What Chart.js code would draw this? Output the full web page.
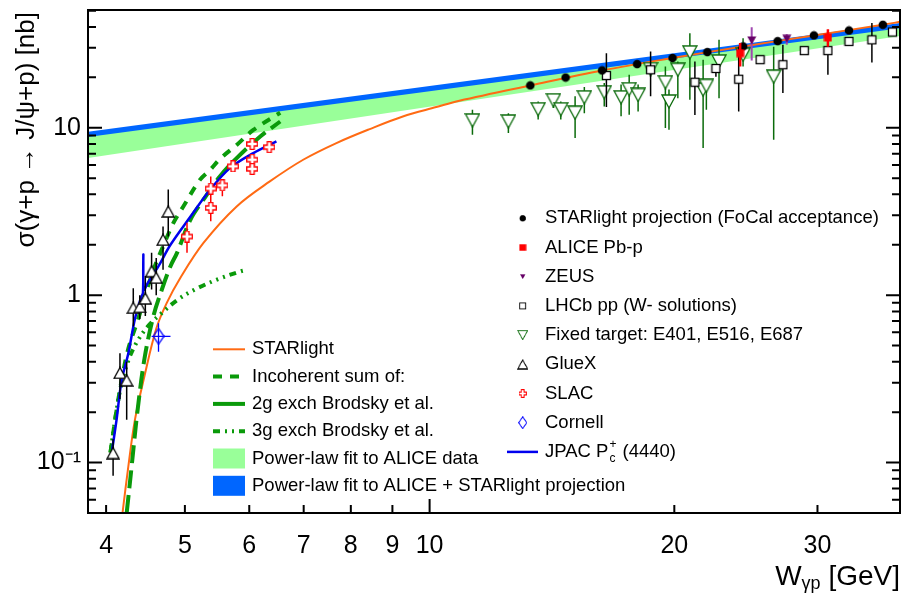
<!DOCTYPE html>
<html>
<head>
<meta charset="utf-8">
<script src="https://cdn.jsdelivr.net/npm/chart.js@4.4.1/dist/chart.umd.min.js"></script>
<style>html,body{margin:0;padding:0;background:#fff}canvas{display:block}</style>
</head>
<body>
<canvas id="chart" width="906" height="594"></canvas>
<script>
// ---- values (W in GeV, sigma in nb) ----
const xTickVals = [4, 5, 6, 7, 8, 9, 10, 20, 30];
const xTickLabels = ['4', '5', '6', '7', '8', '9', '10', '20', '30'];
const yTickVals = [0.1, 1, 10];
const yTickLabels = ['10\u207B\u00B9', '1', '10'];

// power-law fit bands (straight on log-log)
const bandW = [3.8, 37.9];
const aliceFitLow = [6.6, 35.3];
const aliceFitHigh = [9.0, 40.4];
const comboFitLow = [8.8, 39.3];
const comboFitHigh = [9.45, 42.3];

// STARlight curve
const starlightW = [4.19, 4.26, 4.34, 4.46, 4.61, 4.75, 4.935, 5.27, 5.79, 6.36, 6.99, 7.68, 8.44, 9.27, 10.19, 10.88, 13.3, 16.3, 19.9, 24.3, 29.7, 36.1, 37.9];
const starlightXS = [0.05, 0.095, 0.18, 0.33, 0.63, 0.9, 1.267, 2.05, 3.39, 4.78, 6.44, 8.10, 9.82, 11.68, 13.29, 14.5, 17.9, 22.0, 26.1, 30.6, 35.6, 41.2, 42.9];

// Brodsky et al.
const incohW = [4.05, 4.11, 4.18, 4.26, 4.38, 4.46, 4.57, 4.71, 4.84, 4.98, 5.22, 5.37, 5.52, 5.79, 6.07, 6.55];
const incohXS = [0.115, 0.19, 0.31, 0.48, 0.72, 0.97, 1.4, 2.0, 2.7, 3.4, 4.9, 5.6, 6.5, 7.9, 9.7, 12.3];
const twoGW = [4.24, 4.30, 4.37, 4.46, 4.57, 4.69, 4.80, 4.89, 5.08, 5.27, 5.52, 5.79, 6.19, 6.55];
const twoGXS = [0.05, 0.095, 0.2, 0.42, 0.74, 1.1, 1.49, 1.79, 2.83, 3.72, 5.12, 6.59, 8.87, 10.9];
const threeGW = [4.05, 4.11, 4.18, 4.27, 4.36, 4.50, 4.68, 4.90, 5.14, 5.50, 5.86, 5.93];
const threeGXS = [0.115, 0.19, 0.3, 0.42, 0.52, 0.65, 0.78, 0.94, 1.08, 1.25, 1.39, 1.41];

// JPAC Pc+(4440)
const jpacW = [4.07, 4.12, 4.18, 4.26, 4.34, 4.42, 4.44, 4.445, 4.452, 4.50, 4.64, 4.80, 5.08, 5.37, 5.68, 6.07, 6.48];
const jpacXS = [0.12, 0.18, 0.31, 0.45, 0.72, 0.98, 1.03, 1.75, 1.08, 1.18, 1.49, 2.0, 2.95, 4.26, 5.74, 7.06, 8.28];

// STARlight projection (FoCal acceptance)
const projW = [13.3, 14.7, 16.3, 18.0, 19.9, 21.96, 24.3, 26.8, 29.7, 32.8, 36.1];
const projXS = [17.9, 19.95, 22.0, 24.0, 26.1, 28.3, 30.6, 32.9, 35.6, 38.1, 41.2];
const projLo = [17.3, 19.3, 21.3, 23.2, 25.3, 27.4, 29.6, 31.9, 34.5, 36.9, 39.9];
const projHi = [18.5, 20.6, 22.7, 24.8, 26.9, 29.2, 31.6, 33.9, 36.7, 39.3, 42.5];

// ALICE Pb-p
const aliceW = [24.1, 30.9];
const aliceXS = [27.9, 34.6];
const aliceLo = [23.2, 30.5];
const aliceHi = [32.1, 38.8];

// ZEUS
const zeusW = [24.9, 27.5];
const zeusXS = [33.2, 34.0];
const zeusLo = [25.2, 31.3];
const zeusHi = [39.9, 36.2];

// LHCb pp (W- solutions)
const lhcbW = [16.5, 18.7, 21.2, 22.5, 24.0, 25.5, 27.2, 28.9, 30.9, 32.8, 35.0, 37.1];
const lhcbXS = [20.5, 22.2, 18.7, 22.6, 19.5, 25.5, 23.8, 28.9, 28.9, 32.8, 33.5, 37.3];
const lhcbLo = [13.3, 15.4, 11.9, 20.2, 12.5, 24.3, 16.1, 27.8, 20.7, 31.5, 24.5, 36.0];
const lhcbHi = [27.9, 28.5, 24.9, 23.8, 30.5, 26.8, 31.3, 30.0, 34.3, 34.1, 42.2, 38.6];

// Fixed target: E401, E516, E687
const fixedW = [11.29, 12.5, 13.6, 14.2, 14.5, 15.1, 15.5, 16.4, 17.2, 17.6, 18.05, 18.7, 19.5, 19.7, 20.2, 20.9, 21.7, 21.9, 22.7, 24.3, 26.5];
const fixedXS = [11.06, 10.9, 12.9, 14.6, 12.9, 12.3, 15.2, 16.3, 15.2, 17.0, 15.7, 22.4, 18.7, 14.35, 22.2, 28.2, 16.9, 17.8, 24.9, 27.3, 20.2];
const fixedLo = [9.08, 9.29, 11.2, 13.1, 11.2, 8.68, 12.2, 13.4, 11.7, 11.96, 12.5, 20.5, 9.96, 9.73, 15.0, 14.7, 7.56, 12.8, 15.0, 23.2, 8.48];
const fixedHi = [12.8, 12.2, 14.35, 15.7, 14.35, 15.4, 17.5, 18.5, 18.1, 20.7, 18.1, 24.0, 23.2, 16.9, 24.9, 36.7, 25.5, 19.3, 33.6, 34.3, 30.5];

// GlueX
const gluexW = [4.08, 4.16, 4.24, 4.32, 4.40, 4.47, 4.55, 4.61, 4.70, 4.77];
const gluexXS = [0.114, 0.343, 0.31, 0.84, 0.85, 0.955, 1.39, 1.27, 2.14, 3.16];
const gluexLo = [0.0835, 0.24, 0.18, 0.65, 0.72, 0.75, 1.08, 1.0, 1.42, 2.24];
const gluexHi = [0.138, 0.45, 0.40, 1.10, 1.0, 1.30, 1.79, 1.67, 2.57, 4.27];

// SLAC
const slacW = [5.03, 5.38, 5.38, 5.56, 5.73, 6.05, 6.05, 6.05, 6.35];
const slacXS = [2.24, 4.33, 3.32, 4.53, 5.88, 8.0, 6.44, 5.68, 7.66];
const slacLo = [1.79, 3.71, 2.76, 3.9, 5.6, 7.7, 6.1, 5.24, 7.3];
const slacHi = [2.71, 5.12, 3.71, 4.9, 6.2, 8.3, 6.8, 6.0, 8.0];

// Cornell
const cornellW = [4.64];
const cornellXS = [0.568];
const cornellLo = [0.46];
const cornellHi = [0.68];
const cornellWLo = [4.55];
const cornellWHi = [4.80];

const pts = (xs, ys) => xs.map((x, i) => ({x: x, y: ys[i]}));

// ---- marker glyphs (ROOT-like) ----
function makeMarker(w, h, fn) {
  const c = document.createElement('canvas');
  c.width = w; c.height = h;
  fn(c.getContext('2d'));
  return c;
}
function poly(g, p) {
  g.beginPath();
  g.moveTo(p[0][0], p[0][1]);
  for (let i = 1; i < p.length; i++) g.lineTo(p[i][0], p[i][1]);
  g.closePath();
}
const markers = {
  dot: makeMarker(10, 10, g => { g.fillStyle = '#000'; g.beginPath(); g.arc(5, 5, 4.3, 0, 2 * Math.PI); g.fill(); }),
  alice: makeMarker(9, 9, g => { g.fillStyle = '#ff0000'; g.fillRect(0.5, 0.5, 8, 8); }),
  zeus: makeMarker(10, 9, g => { g.fillStyle = '#660066'; poly(g, [[0.5, 0.5], [9.5, 0.5], [5, 8.5]]); g.fill(); }),
  lhcb: makeMarker(11, 11, g => { g.fillStyle = '#fff'; g.fillRect(1, 1, 9, 9); g.strokeStyle = '#000'; g.lineWidth = 1.3; g.strokeRect(1.5, 1.5, 8, 8); }),
  fixed: makeMarker(16, 15, g => { poly(g, [[1, 1], [15, 1], [8, 14]]); g.fillStyle = '#fff'; g.fill(); g.strokeStyle = '#0b6b0b'; g.lineWidth = 1.3; g.stroke(); }),
  gluex: makeMarker(14, 13, g => { poly(g, [[7, 1], [13, 12], [1, 12]]); g.fillStyle = '#fff'; g.fill(); g.strokeStyle = '#000'; g.lineWidth = 1.3; g.stroke(); }),
  slac: makeMarker(12, 12, g => {
    poly(g, [[4, 0.7], [8, 0.7], [8, 4], [11.3, 4], [11.3, 8], [8, 8], [8, 11.3], [4, 11.3], [4, 8], [0.7, 8], [0.7, 4], [4, 4]]);
    g.fillStyle = '#fff'; g.fill(); g.strokeStyle = '#ff0000'; g.lineWidth = 1.3; g.stroke();
  }),
  cornell: makeMarker(12, 17, g => { poly(g, [[6, 0.7], [11.3, 8.5], [6, 16.3], [0.7, 8.5]]); g.strokeStyle = '#0000ff'; g.lineWidth = 1.3; g.stroke(); })
};

const FONT = "'Liberation Sans', Arial, Helvetica, sans-serif";
Chart.defaults.font.family = FONT;
Chart.defaults.color = '#000';

const GREEN = '#0a9a0a';

function curve(label, xs, ys, color, width, dash, order) {
  return {label: label, data: pts(xs, ys), showLine: true, borderColor: color, borderWidth: width,
    borderDash: dash, pointRadius: 0, fill: false, tension: 0.35, order: order};
}
function points(label, xs, ys, style, err, order) {
  return {label: label, data: pts(xs, ys), showLine: false, pointStyle: style, pointRadius: 5,
    err: err, order: order};
}

// ---- plugins ----
const errorBars = {
  id: 'errorBars',
  beforeDatasetDraw(chart, args) {
    const ds = chart.data.datasets[args.index];
    if (!ds.err) return;
    const xs = chart.scales.x, ys = chart.scales.y, ctx = chart.ctx, e = ds.err;
    ctx.save();
    ctx.strokeStyle = e.color;
    ctx.lineWidth = e.width;
    ctx.beginPath();
    ds.data.forEach((p, i) => {
      const px = xs.getPixelForValue(p.x);
      const py = ys.getPixelForValue(p.y);
      ctx.moveTo(px, ys.getPixelForValue(e.lo[i]));
      ctx.lineTo(px, ys.getPixelForValue(e.hi[i]));
      if (e.xlo) {
        ctx.moveTo(xs.getPixelForValue(e.xlo[i]), py);
        ctx.lineTo(xs.getPixelForValue(e.xhi[i]), py);
      }
    });
    ctx.stroke();
    ctx.restore();
  }
};

const frame = {
  id: 'frame',
  afterDatasetsDraw(chart) {
    const {ctx, chartArea: a, scales: {x, y}} = chart;
    ctx.save();
    ctx.strokeStyle = '#000';
    ctx.lineWidth = 2;
    ctx.beginPath();
    xTickVals.forEach(v => {
      const px = x.getPixelForValue(v);
      const len = v === 10 ? 14 : 8;
      ctx.moveTo(px, a.bottom); ctx.lineTo(px, a.bottom - len);
    });
    for (let e = -2; e <= 1; e++) {
      for (let m = 1; m <= 9; m++) {
        const v = m * Math.pow(10, e);
        if (v <= y.min || v >= y.max) continue;
        const py = y.getPixelForValue(v);
        const len = m === 1 ? 14 : 8;
        ctx.moveTo(a.left, py); ctx.lineTo(a.left + len, py);
        ctx.moveTo(a.right, py); ctx.lineTo(a.right - len, py);
      }
    }
    ctx.stroke();
    ctx.strokeRect(a.left, a.top, a.right - a.left, a.bottom - a.top);
    ctx.restore();
  }
};

const legendA = [
  {label: 'STARlight projection (FoCal acceptance)', marker: 'dot', scale: 0.75},
  {label: 'ALICE Pb-p', marker: 'alice', scale: 0.85},
  {label: 'ZEUS', marker: 'zeus', scale: 0.6},
  {label: 'LHCb pp (W- solutions)', marker: 'lhcb', scale: 0.75},
  {label: 'Fixed target: E401, E516, E687', marker: 'fixed', scale: 0.7},
  {label: 'GlueX', marker: 'gluex', scale: 0.8},
  {label: 'SLAC', marker: 'slac', scale: 0.7},
  {label: 'Cornell', marker: 'cornell', scale: 0.75},
  {label: 'JPAC', marker: null}
];
const legendB = [
  {label: 'STARlight', color: '#ff6a13', width: 2, dash: []},
  {label: 'Incoherent sum of:', color: GREEN, width: 4, dash: [9, 8]},
  {label: '2g exch Brodsky et al.', color: GREEN, width: 4, dash: []},
  {label: '3g exch Brodsky et al.', color: GREEN, width: 4, dash: [7, 5, 2, 5, 2, 5]},
  {label: 'Power-law fit to ALICE data', box: '#99ff99'},
  {label: 'Power-law fit to ALICE + STARlight projection', box: '#0066ff'}
];

const texts = {
  id: 'texts',
  afterDraw(chart) {
    const ctx = chart.ctx;
    ctx.save();
    ctx.fillStyle = '#000';
    // y title
    ctx.save();
    ctx.translate(34, 12);
    ctx.rotate(-Math.PI / 2);
    ctx.font = '26px ' + FONT;
    ctx.textAlign = 'right';
    ctx.textBaseline = 'alphabetic';
    ctx.fillText('\u03C3(\u03B3+p \u2192 J/\u03C8+p) [nb]', 0, 0);
    ctx.restore();
    // x title
    ctx.textBaseline = 'alphabetic';
    ctx.textAlign = 'left';
    const big = '28px ' + FONT, small = '18px ' + FONT;
    ctx.font = big; const wW = ctx.measureText('W').width; const wG = ctx.measureText(' [GeV]').width;
    ctx.font = small; const wS = ctx.measureText('\u03B3p').width;
    let x0 = chart.chartArea.right - (wW + wS + wG);
    ctx.font = big; ctx.fillText('W', x0, 585);
    ctx.font = small; ctx.fillText('\u03B3p', x0 + wW, 589);
    ctx.font = big; ctx.fillText(' [GeV]', x0 + wW + wS, 585);

    // legend A (markers)
    ctx.font = '18.5px ' + FONT;
    ctx.textBaseline = 'middle';
    legendA.forEach((it, i) => {
      const cy = 218.3 + i * 29.2;
      if (it.marker) {
        const m = markers[it.marker], s = it.scale;
        ctx.drawImage(m, 522.7 - m.width * s / 2, cy - m.height * s / 2, m.width * s, m.height * s);
      } else {
        ctx.strokeStyle = '#0000ee'; ctx.lineWidth = 2.5;
        ctx.beginPath(); ctx.moveTo(507, cy); ctx.lineTo(538, cy); ctx.stroke();
      }
      ctx.fillText(it.label, 545, cy);
      if (!it.marker) {
        let tx = 545 + ctx.measureText('JPAC ').width;
        ctx.fillText('P', tx, cy);
        tx += ctx.measureText('P').width + 1;
        ctx.font = '12px ' + FONT;
        ctx.fillText('+', tx, cy - 7);
        ctx.fillText('c', tx, cy + 7);
        ctx.font = '18.5px ' + FONT;
        ctx.fillText(' (4440)', tx + 8, cy);
      }
    });

    // legend B (curves and bands)
    legendB.forEach((it, i) => {
      const cy = 349.3 + i * 27.3;
      if (it.box) {
        ctx.fillStyle = it.box;
        ctx.fillRect(213, cy - 10, 32, 20);
      } else {
        ctx.strokeStyle = it.color; ctx.lineWidth = it.width; ctx.setLineDash(it.dash);
        ctx.beginPath(); ctx.moveTo(213, cy); ctx.lineTo(245, cy); ctx.stroke();
        ctx.setLineDash([]);
      }
      ctx.fillStyle = '#000';
      ctx.fillText(it.label, 252, cy);
    });
    ctx.restore();
  }
};

new Chart(document.getElementById('chart').getContext('2d'), {
  type: 'line',
  data: {
    datasets: [
      {label: 'ALICE fit low', data: pts(bandW, aliceFitLow), borderWidth: 0, pointRadius: 0, fill: false, order: 20},
      {label: 'Power-law fit to ALICE data', data: pts(bandW, aliceFitHigh), borderWidth: 0, pointRadius: 0,
        fill: '-1', backgroundColor: '#99ff99', order: 20},
      {label: 'combo fit low', data: pts(bandW, comboFitLow), borderWidth: 0, pointRadius: 0, fill: false, order: 18},
      {label: 'Power-law fit to ALICE + STARlight projection', data: pts(bandW, comboFitHigh), borderWidth: 0,
        pointRadius: 0, fill: '-1', backgroundColor: '#0066ff', order: 18},
      curve('STARlight', starlightW, starlightXS, '#ff6a13', 2, [], 10),
      curve('3g exch', threeGW, threeGXS, GREEN, 4, [7, 5, 2, 5, 2, 5, 2, 5], 9),
      curve('2g exch', twoGW, twoGXS, GREEN, 4, [18, 7], 9),
      curve('Incoherent sum', incohW, incohXS, GREEN, 4, [9, 8], 9),
      curve('JPAC', jpacW, jpacXS, '#0000ee', 2.5, [], 8),
      points('Fixed target', fixedW, fixedXS, markers.fixed, {lo: fixedLo, hi: fixedHi, color: '#0b6b0b', width: 1.5}, 6),
      points('LHCb', lhcbW, lhcbXS, markers.lhcb, {lo: lhcbLo, hi: lhcbHi, color: '#000', width: 1.5}, 5),
      points('GlueX', gluexW, gluexXS, markers.gluex, {lo: gluexLo, hi: gluexHi, color: '#000', width: 1.5}, 5),
      points('SLAC', slacW, slacXS, markers.slac, {lo: slacLo, hi: slacHi, color: '#ff0000', width: 1.5}, 5),
      points('Cornell', cornellW, cornellXS, markers.cornell,
        {lo: cornellLo, hi: cornellHi, xlo: cornellWLo, xhi: cornellWHi, color: '#0000ff', width: 1.3}, 5),
      points('ZEUS', zeusW, zeusXS, markers.zeus, {lo: zeusLo, hi: zeusHi, color: '#a048b0', width: 2}, 4),
      points('STARlight projection', projW, projXS, markers.dot, {lo: projLo, hi: projHi, color: '#000', width: 1.5}, 3),
      points('ALICE Pb-p', aliceW, aliceXS, markers.alice, {lo: aliceLo, hi: aliceHi, color: '#ff0000', width: 2.5}, 2)
    ]
  },
  options: {
    responsive: false,
    animation: false,
    events: [],
    layout: {padding: {top: 10, right: 4, bottom: 0, left: 0}},
    plugins: {legend: {display: false}, tooltip: {enabled: false}},
    scales: {
      x: {
        type: 'logarithmic', min: 3.8, max: 37.9, position: 'bottom',
        grid: {display: false, drawTicks: false}, border: {display: false},
        afterBuildTicks: s => { s.ticks = xTickVals.map(v => ({value: v})); },
        afterFit: s => { s.height = 81; s.paddingLeft = 0; s.paddingRight = 0; },
        ticks: {autoSkip: false, maxRotation: 0, minRotation: 0, padding: 18, color: '#000', font: {size: 25},
          callback: (v, i) => xTickLabels[i]}
      },
      y: {
        type: 'logarithmic', min: 0.05, max: 50.5, position: 'left',
        grid: {display: false, drawTicks: false}, border: {display: false},
        afterBuildTicks: s => { s.ticks = yTickVals.map(v => ({value: v})); },
        afterFit: s => { s.width = 88; s.paddingTop = 0; s.paddingBottom = 0; },
        ticks: {autoSkip: false, padding: 7, color: '#000', font: {size: 25},
          callback: (v, i) => yTickLabels[i]}
      }
    }
  },
  plugins: [errorBars, frame, texts]
});
</script>
</body>
</html>
